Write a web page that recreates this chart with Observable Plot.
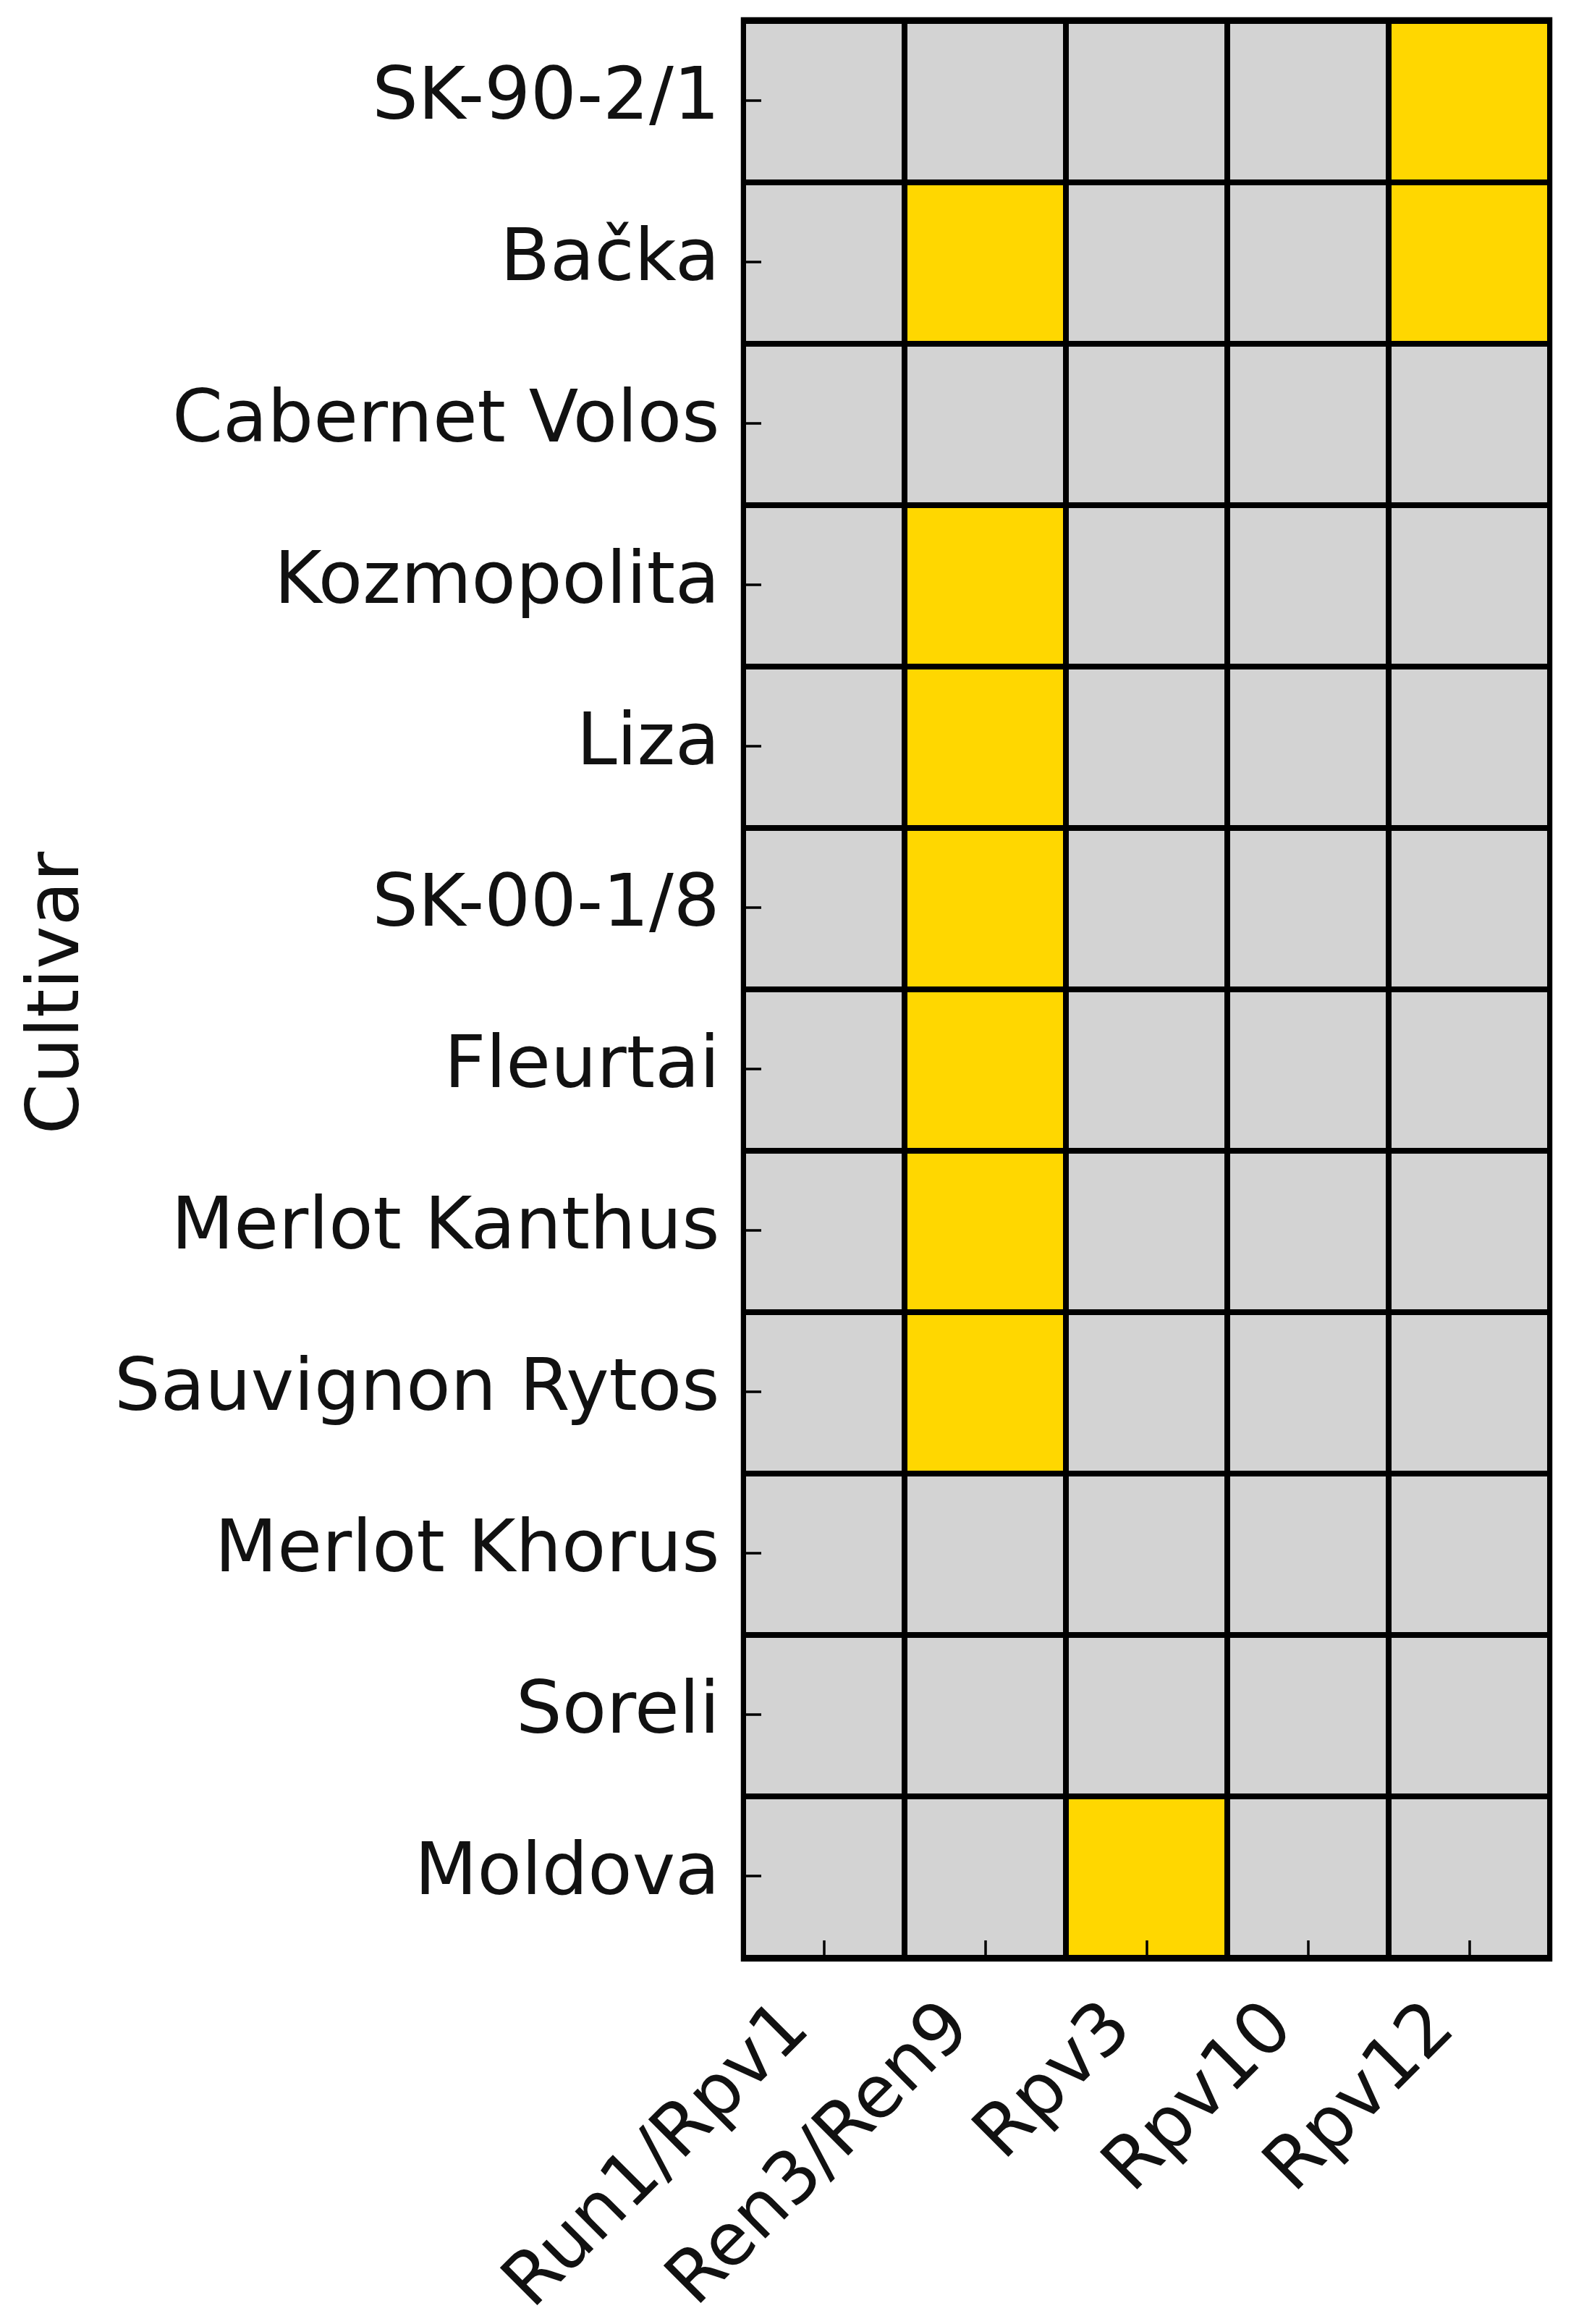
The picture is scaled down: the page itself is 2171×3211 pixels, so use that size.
<!DOCTYPE html>
<html><head><meta charset="utf-8">
<script src="https://cdn.jsdelivr.net/npm/d3@7"></script>
<script src="https://cdn.jsdelivr.net/npm/@observablehq/plot@0.6"></script>
<style>html,body{margin:0;padding:0;background:#fff}</style>
</head><body><div id="chart"></div>
<script>
const cultivars = ["SK-90-2/1","Bačka","Cabernet Volos","Kozmopolita","Liza","SK-00-1/8","Fleurtai","Merlot Kanthus","Sauvignon Rytos","Merlot Khorus","Soreli","Moldova"];
const markers = ["Run1/Rpv1","Ren3/Ren9","Rpv3","Rpv10","Rpv12"];
// 1 = marker present, 0 = absent (rows follow cultivars, columns follow markers)
const presence = [
  [0,0,0,0,1],
  [0,1,0,0,1],
  [0,0,0,0,0],
  [0,1,0,0,0],
  [0,1,0,0,0],
  [0,1,0,0,0],
  [0,1,0,0,0],
  [0,1,0,0,0],
  [0,1,0,0,0],
  [0,0,0,0,0],
  [0,0,0,0,0],
  [0,0,1,0,0]
];
const yTitle = "Cultivar";

const cells = cultivars.flatMap((c, i) => markers.map((m, j) => ({cultivar: c, marker: m, present: presence[i][j]})));
const W = 2171, H = 3211, mL = 1025, mT = 25, mR = 28, mB = 503;
const pw = W - mL - mR, ph = H - mT - mB;
const fs = 100.3;
const chart = Plot.plot({
  width: W, height: H,
  marginLeft: mL, marginTop: mT, marginRight: mR, marginBottom: mB,
  style: {fontFamily: "DejaVu Sans", background: "#fff", overflow: "visible", color: "#000"},
  x: {domain: markers, padding: 0, axis: null},
  y: {domain: cultivars, padding: 0, axis: null},
  color: {type: "ordinal", domain: [0, 1], range: ["#d3d3d3", "#ffd700"]},
  marks: [
    Plot.cell(cells, {x: "marker", y: "cultivar", fill: "present", stroke: "#000", strokeWidth: 8, clip: true}),
    Plot.frame({stroke: "#000", strokeWidth: 3.5}),
    Plot.tickY(cultivars, {y: d => d, stroke: "#000", strokeWidth: 3.5, insetRight: pw - 27, dy: -2}),
    Plot.tickX(markers, {x: d => d, stroke: "#000", strokeWidth: 3.5, insetTop: ph - 27}),
    Plot.text(cultivars, {y: d => d, text: d => d, frameAnchor: "left", textAnchor: "end", lineAnchor: "bottom", dx: -31, dy: 23, fontSize: fs, fill: "#111"}),
    Plot.text(markers, {x: d => d, text: d => d, frameAnchor: "bottom", textAnchor: "end", lineAnchor: "bottom", rotate: -45, dx: -17, dy: 97, fontSize: fs, fill: "#111"}),
    Plot.text([yTitle], {text: d => d, frameAnchor: "left", rotate: -90, dx: 107 - mL, dy: 5, lineAnchor: "bottom", textAnchor: "middle", fontSize: fs, fill: "#111"})
  ]
});
document.getElementById("chart").appendChild(chart);
</script>
</body></html>
